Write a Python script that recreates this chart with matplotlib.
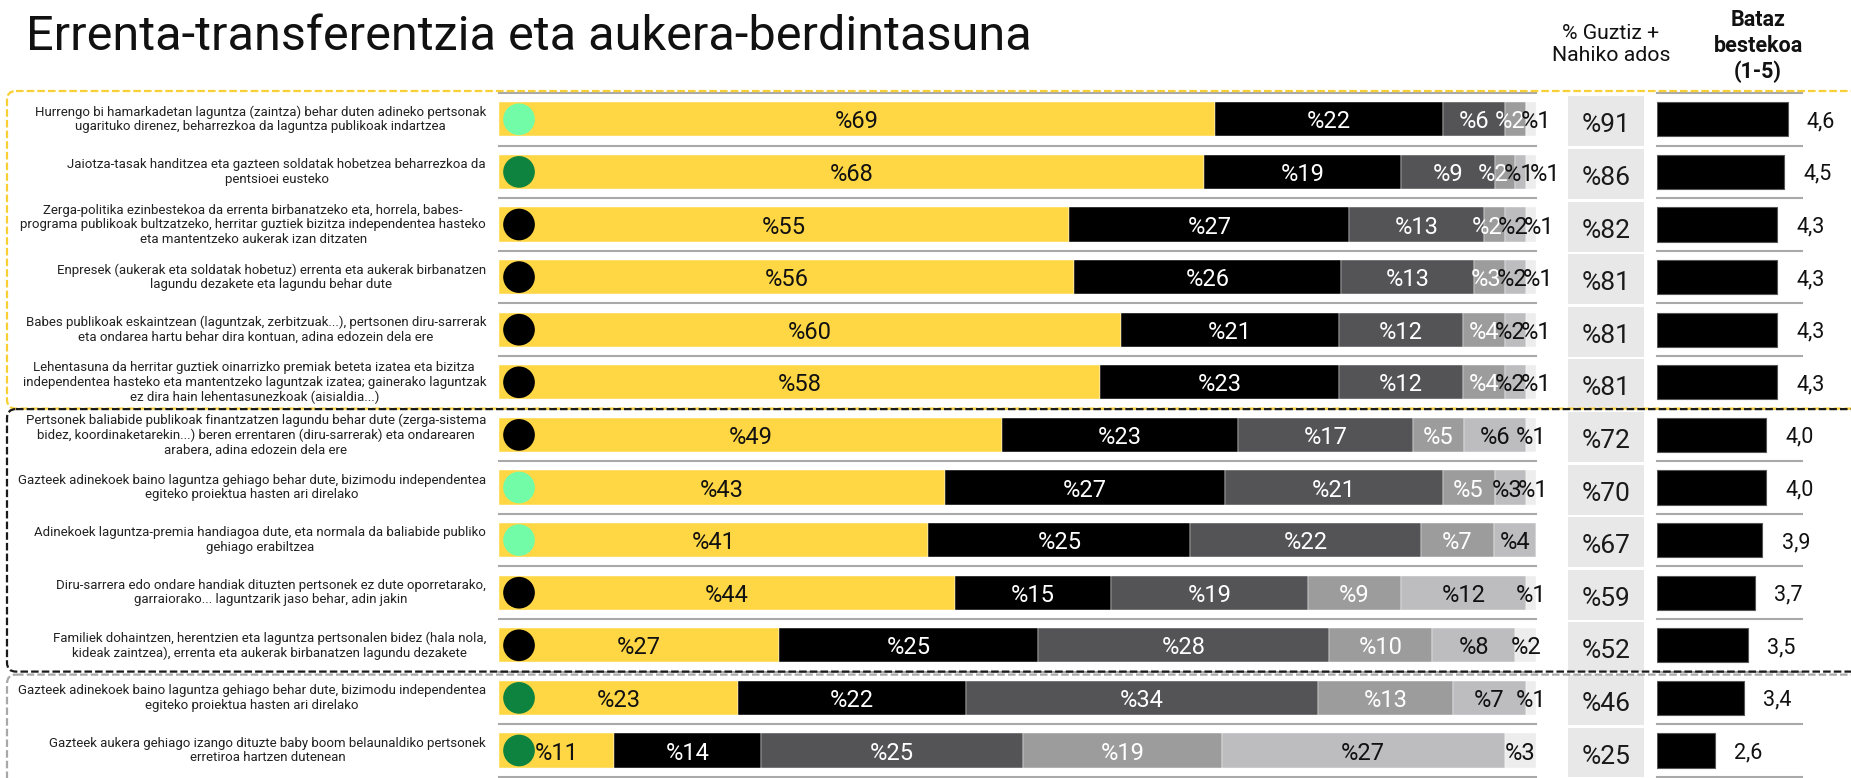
import numpy as np
import matplotlib
matplotlib.use("Agg")
import matplotlib.pyplot as plt
from matplotlib.patches import FancyBboxPatch

# ---------------- data ----------------
title = "Errenta-transferentzia eta aukera-berdintasuna"
header_total = "% Guztiz +\nNahiko ados"
header_mean = "Bataz\nbestekoa\n(1-5)"

statements = [
    "Hurrengo bi hamarkadetan laguntza (zaintza) behar duten adineko pertsonak\nugarituko direnez, beharrezkoa da laguntza publikoak indartzea",
    "Jaiotza-tasak handitzea eta gazteen soldatak hobetzea beharrezkoa da\npentsioei eusteko",
    "Zerga-politika ezinbestekoa da errenta birbanatzeko eta, horrela, babes-\nprograma publikoak bultzatzeko, herritar guztiek bizitza independentea hasteko\neta mantentzeko aukerak izan ditzaten",
    "Enpresek (aukerak eta soldatak hobetuz) errenta eta aukerak birbanatzen\nlagundu dezakete eta lagundu behar dute",
    "Babes publikoak eskaintzean (laguntzak, zerbitzuak...), pertsonen diru-sarrerak\neta ondarea hartu behar dira kontuan, adina edozein dela ere",
    "Lehentasuna da herritar guztiek oinarrizko premiak beteta izatea eta bizitza\nindependentea hasteko eta mantentzeko laguntzak izatea; gainerako laguntzak\nez dira hain lehentasunezkoak (aisialdia...)",
    "Pertsonek baliabide publikoak finantzatzen lagundu behar dute (zerga-sistema\nbidez, koordinaketarekin...) beren errentaren (diru-sarrerak) eta ondarearen\narabera, adina edozein dela ere",
    "Gazteek adinekoek baino laguntza gehiago behar dute, bizimodu independentea\negiteko proiektua hasten ari direlako",
    "Adinekoek laguntza-premia handiagoa dute, eta normala da baliabide publiko\ngehiago erabiltzea",
    "Diru-sarrera edo ondare handiak dituzten pertsonek ez dute oporretarako,\ngarraiorako... laguntzarik jaso behar, adin jakin",
    "Familiek dohaintzen, herentzien eta laguntza pertsonalen bidez (hala nola,\nkideak zaintzea), errenta eta aukerak birbanatzen lagundu dezakete",
    "Gazteek adinekoek baino laguntza gehiago behar dute, bizimodu independentea\negiteko proiektua hasten ari direlako",
    "Gazteek aukera gehiago izango dituzte baby boom belaunaldiko pertsonek\nerretiroa hartzen dutenean",
]

categories = ["Guztiz ados", "Nahiko ados", "Ez ados ez kontra",
              "Nahiko kontra", "Guztiz kontra", "Ez daki"]
guztiz_ados = [69, 68, 55, 56, 60, 58, 49, 43, 41, 44, 27, 23, 11]
nahiko_ados = [22, 19, 27, 26, 21, 23, 23, 27, 25, 15, 25, 22, 14]
ez_ados_ez_kontra = [6, 9, 13, 13, 12, 12, 17, 21, 22, 19, 28, 34, 25]
nahiko_kontra = [2, 2, 2, 3, 4, 4, 5, 5, 7, 9, 10, 13, 19]
guztiz_kontra = [0, 1, 2, 2, 2, 2, 6, 3, 4, 12, 8, 7, 27]
ez_daki = [1, 1, 1, 1, 1, 1, 1, 1, 0, 1, 2, 1, 3]

total_agree = [91, 86, 82, 81, 81, 81, 72, 70, 67, 59, 52, 46, 25]
mean_score = [4.6, 4.5, 4.3, 4.3, 4.3, 4.3, 4.0, 4.0, 3.9, 3.7, 3.5, 3.4, 2.6]

dot_type = ["light", "dark", "black", "black", "black", "black", "black",
            "light", "light", "black", "black", "dark", "dark"]
group = ["yellow"] * 6 + ["black"] * 5 + ["gray"] * 2

# ---------------- style ----------------
plt.rcParams['font.family'] = ['Roboto', 'DejaVu Sans']
seg_colors = ["#FFD744", "#000000", "#545457", "#9C9C9D", "#BDBDBF", "#EDEDED"]
seg_text = ["#111111", "white", "white", "white", "#111111", "#111111"]
dot_colors = {"light": "#72FCA8", "dark": "#0E823F", "black": "#000000"}
group_colors = {"yellow": "#F8CF35", "black": "#1A1A1A", "gray": "#A8A8A8"}
SEP = "#A9A9A9"

W, H = 1851, 778
fig = plt.figure(figsize=(W / 100, H / 100), dpi=100)


def ax_px(x0, y0, x1, y1):
    return fig.add_axes([x0 / W, 1 - y1 / H, (x1 - x0) / W, (y1 - y0) / H])


n = len(statements)
TOP, PITCH = 93.0, 52.6
BOT = TOP + n * PITCH
rows = np.arange(n) + 0.5
BAR_H = 0.65

# ---- stacked bars (each row scaled to a full 100 % bar) ----
ax = ax_px(499, TOP, 1536, BOT)
ax.set_xlim(0, 100)
ax.set_ylim(n, 0)
ax.axis('off')
for b in range(n + 1):
    ax.axhline(b, color=SEP, lw=1.5, zorder=0, clip_on=False)
series = np.array([guztiz_ados, nahiko_ados, ez_ados_ez_kontra,
                   nahiko_kontra, guztiz_kontra, ez_daki], dtype=float)
row_sum = series.sum(axis=0)
widths = series / row_sum * 100
lefts = np.vstack([np.zeros(n), np.cumsum(widths, axis=0)[:-1]])
for k in range(len(series)):
    ax.barh(rows, widths[k], left=lefts[k], height=BAR_H, color=seg_colors[k],
            edgecolor='white', linewidth=0.3, zorder=2)

MIN_GAP = 2.5  # minimal distance between label centres (axis units)
for i in range(n):
    labs = [[lefts[k, i] + widths[k, i] / 2, k] for k in range(len(series)) if series[k, i] > 0]
    for _ in range(40):
        for a, b in zip(labs[:-1], labs[1:]):
            d = b[0] - a[0]
            if d < MIN_GAP:
                push = (MIN_GAP - d) / 2
                a[0] -= push
                b[0] += push
    for xc, k in labs:
        ax.text(xc, rows[i], f"%{int(series[k, i])}", ha='center', va='center_baseline',
                color=seg_text[k], fontsize=17, zorder=4)

ax.scatter(np.full(n, 1.93), rows, s=520, c=[dot_colors[d] for d in dot_type],
           zorder=5, linewidths=0)

# ---- total column ----
axt = ax_px(1568, TOP, 1644, BOT)
axt.set_xlim(0, 1)
axt.set_ylim(n, 0)
axt.axis('off')
axt.barh(rows + 0.04, 1, height=0.95, color="#E8E8E8")
for r, t in zip(rows, total_agree):
    axt.text(0.5, r + 0.07, f"%{t}", ha='center', va='center_baseline',
             fontsize=19, color="#1A1A1A")

# ---- mean column ----
axm = ax_px(1657, TOP, 1802, BOT)
axm.set_xlim(1, 5)
axm.set_ylim(n, 0)
axm.axis('off')
for b in range(n + 1):
    axm.axhline(b, color=SEP, lw=1.5, zorder=0, clip_on=False)
m = np.array(mean_score)
axm.barh(rows, m - 1, left=1, height=BAR_H, color='black', edgecolor='#555555', linewidth=0.8, zorder=2)
for r, v in zip(rows, m):
    axm.annotate(f"{v:.1f}".replace('.', ','), xy=(v, r), xytext=(14, 0),
                 textcoords='offset points', ha='left', va='center_baseline',
                 fontsize=15.5, color='#111111', annotation_clip=False)

# ---- overlay: texts and group frames ----
ov = fig.add_axes([0, 0, 1, 1])
ov.set_xlim(0, W)
ov.set_ylim(H, 0)
ov.axis('off')
ov.patch.set_visible(False)

ov.text(26, 50, title, ha='left', va='baseline', fontsize=35, color='#111111')
ov.text(1611, 44, header_total, ha='center', va='center', fontsize=15.3,
        linespacing=1.2, color='#111111')
ov.text(1758, 46, header_mean, ha='center', va='center', fontsize=15.5,
        fontweight='bold', linespacing=1.2, color='#111111')

for i, s in enumerate(statements):
    ov.text(486, TOP + (i + 0.5) * PITCH, s, ha='right', va='center',
            multialignment='center', fontsize=9.5, linespacing=1.15, color='#222222')

# group frames
order = []
for g in group:
    if not order or order[-1][0] != g:
        order.append([g, 0])
    order[-1][1] += 1
start = 0
insets = {"yellow": -2, "black": 0.5, "gray": 3}
for g, cnt in order:
    y0 = TOP + start * PITCH + insets[g]
    y1 = TOP + (start + cnt) * PITCH + (0 if g != "gray" else 40)
    box = FancyBboxPatch((7, y0), 1880 - 7, y1 - y0,
                         boxstyle='round,pad=0,rounding_size=9', fill=False,
                         edgecolor=group_colors[g], linewidth=1.6,
                         linestyle=(0, (3.4, 1.4)), zorder=10, clip_on=False)
    ov.add_patch(box)
    start += cnt

fig.savefig("out.png", dpi=100)
